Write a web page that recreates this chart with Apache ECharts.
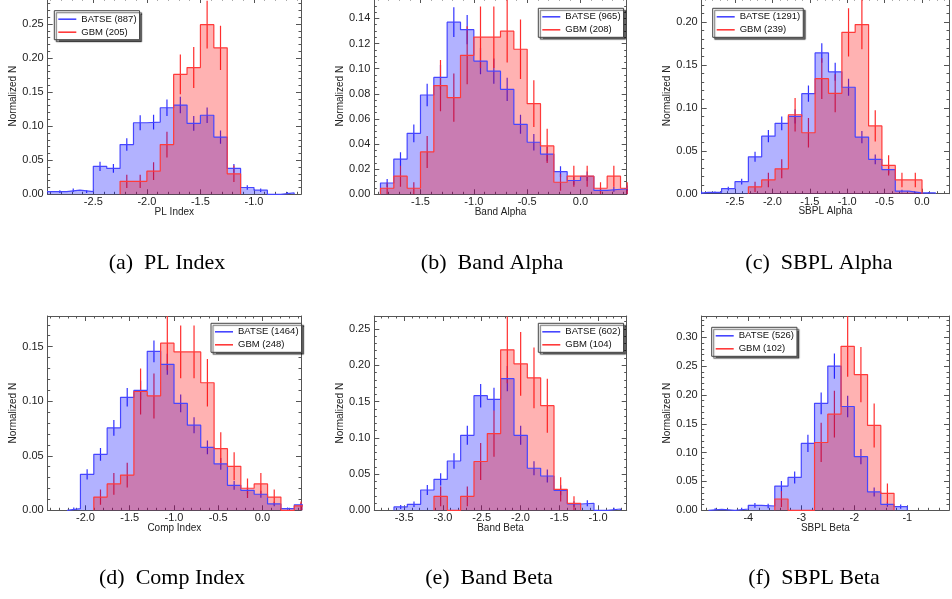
<!DOCTYPE html>
<html><head><meta charset="utf-8">
<script src="https://cdn.jsdelivr.net/npm/echarts@6/dist/echarts.min.js"></script>
<style>html,body{margin:0;padding:0;background:#fff}#c{width:952px;height:599px}</style>
</head><body><div id="c"></div>
<script>
// ---------- (a) PL Index ----------
const aEdges = [-3.0,-2.875,-2.75,-2.625,-2.5,-2.375,-2.25,-2.125,-2.0,-1.875,-1.75,-1.625,-1.5,-1.375,-1.25,-1.125,-1.0,-0.875,-0.75,-0.625];
const aBatse = [0.004,0.004,0.006,0.004,0.041,0.038,0.073,0.105,0.106,0.127,0.131,0.104,0.116,0.084,0.038,0.010,0.006,0,0.002];
const aBatseErr = [0.0021,0.0021,0.0026,0.0021,0.0068,0.0065,0.0091,0.0109,0.0109,0.012,0.0122,0.0108,0.0114,0.0097,0.0065,0.0034,0.0026,0,0.0015];
const aGbm = [null,null,null,null,null,null,0.019,0.019,0.034,0.073,0.176,0.186,0.249,0.215,0.030,null,null,null,null];
const aGbmErr = [null,null,null,null,null,null,0.0096,0.0096,0.0129,0.0189,0.0293,0.0301,0.0349,0.0324,0.0121,null,null,null,null];
const aXTicks = [-2.5,-2.0,-1.5,-1.0];
const aYTicks = [0,0.05,0.10,0.15,0.20,0.25];

// ---------- (b) Band Alpha ----------
const bEdges = [-1.875,-1.75,-1.625,-1.5,-1.375,-1.25,-1.125,-1.0,-0.875,-0.75,-0.625,-0.5,-0.375,-0.25,-0.125,0,0.125,0.25,0.375,0.5];
const bBatse = [0.009,0.028,0.0485,0.079,0.093,0.137,0.131,0.106,0.098,0.0835,0.0557,0.0414,0.032,0.018,0.011,0.0143,0.0032,0.004,0.0048];
const bBatseErr = [0.0031,0.0054,0.0071,0.009,0.0098,0.0119,0.0117,0.0105,0.0101,0.0093,0.0076,0.0066,0.0058,0.0043,0.0034,0.0038,0.0018,0.002,0.0022];
const bGbm = [0.0048,0.0144,0.0048,0.0337,0.0865,0.0769,0.1106,0.125,0.125,0.1298,0.1154,0.0721,0.0385,0.0096,0.0144,0.0144,0.0048,0.0144,0.0048];
const bGbmErr = [0.0048,0.0083,0.0048,0.0127,0.0204,0.0192,0.0231,0.0245,0.0245,0.025,0.0236,0.0186,0.0136,0.0068,0.0083,0.0083,0.0048,0.0083,0.0048];
const bXTicks = [-1.5,-1.0,-0.5,0.0];
const bYTicks = [0,0.02,0.04,0.06,0.08,0.10,0.12,0.14];

// ---------- (c) SBPL Alpha ----------
const cEdges = [-3.036,-2.857,-2.679,-2.5,-2.321,-2.143,-1.964,-1.786,-1.607,-1.429,-1.25,-1.071,-0.893,-0.714,-0.536,-0.357,-0.179,0,0.179];
const cBatse = [0.0016,0.0016,0.006,0.014,0.043,0.067,0.082,0.090,0.1165,0.164,0.142,0.124,0.066,0.040,0.028,0.003,0.001,0.001];
const cBatseErr = [0.0011,0.0011,0.0022,0.0033,0.0058,0.0072,0.008,0.0083,0.0095,0.0113,0.0105,0.0098,0.0071,0.0056,0.0047,0.0015,0.0009,0.0009];
const cGbm = [null,null,null,null,0.008,0.016,0.029,0.092,0.071,0.134,0.117,0.188,0.197,0.079,0.033,0.016,0.016,null];
const cGbmErr = [null,null,null,null,0.0059,0.0084,0.0111,0.0196,0.0173,0.0237,0.0221,0.0281,0.0287,0.0182,0.0118,0.0084,0.0084,null];
const cXTicks = [-2.5,-2.0,-1.5,-1.0,-0.5,0.0];
const cYTicks = [0,0.05,0.10,0.15,0.20];

// ---------- (d) Comp Index ----------
const dEdges = [-2.208,-2.057,-1.906,-1.755,-1.604,-1.453,-1.302,-1.151,-1.0,-0.849,-0.698,-0.547,-0.396,-0.245,-0.094,0.057,0.208,0.359,0.51];
const dBatse = [0.0015,0.033,0.0513,0.0755,0.1036,0.110,0.1457,0.1338,0.098,0.078,0.0577,0.0425,0.0229,0.0183,0.0147,0.0058,0.0015,0.005];
const dBatseErr = [0.001,0.0047,0.0059,0.0072,0.0084,0.0087,0.01,0.0096,0.0082,0.0073,0.0063,0.0054,0.004,0.0035,0.0032,0.002,0.001,0.0018];
const dGbm = [null,null,0.0121,0.0242,0.0323,0.1089,0.1048,0.1532,0.1452,0.1452,0.1169,0.0565,0.0403,0.0202,0.0242,0.0121,0,0.004];
const dGbmErr = [null,null,0.007,0.0099,0.0114,0.021,0.0206,0.0249,0.0242,0.0242,0.0217,0.0151,0.0128,0.009,0.0099,0.007,0,0.004];
const dXTicks = [-2.0,-1.5,-1.0,-0.5,0.0];
const dYTicks = [0,0.05,0.10,0.15];

// ---------- (e) Band Beta ----------
const eEdges = [-3.632,-3.46,-3.288,-3.116,-2.944,-2.772,-2.6,-2.428,-2.256,-2.084,-1.912,-1.74,-1.568,-1.396,-1.224,-1.052,-0.88,-0.708];
const eBatse = [0.0046,0.0083,0.028,0.0427,0.068,0.1034,0.158,0.153,0.1815,0.1034,0.058,0.0473,0.0276,0.0087,0.0097,0,0.0018];
const eBatseErr = [0.0028,0.0037,0.0068,0.0084,0.0106,0.0131,0.0162,0.0159,0.0174,0.0131,0.0098,0.0089,0.0068,0.0038,0.004,0,0.0017];
const eGbm = [null,null,null,0.0192,0,0.0192,0.0673,0.1058,0.2212,0.2019,0.1827,0.1442,0.0288,0.0096,null,null,null];
const eGbmErr = [null,null,null,0.0136,0,0.0136,0.0254,0.0319,0.0461,0.0441,0.0419,0.0372,0.0167,0.0096,null,null,null];
const eXTicks = [-3.5,-3.0,-2.5,-2.0,-1.5,-1.0];
const eYTicks = [0,0.05,0.10,0.15,0.20,0.25];

// ---------- (f) SBPL Beta ----------
const fEdges = [-4.75,-4.5,-4.25,-4.0,-3.75,-3.5,-3.25,-3.0,-2.75,-2.5,-2.25,-2.0,-1.75,-1.5,-1.25,-1.0];
const fBatse = [0.0017,0,0.0023,0.0087,0.0075,0.042,0.057,0.116,0.1855,0.25,0.18,0.093,0.0318,0.0104,0.0064];
const fBatseErr = [0.0018,0,0.0021,0.0041,0.0038,0.0089,0.0104,0.0149,0.0188,0.0218,0.0185,0.0133,0.0078,0.0044,0.0035];
const fGbm = [null,null,null,null,null,0.0196,0,0,0.1176,0.1667,0.2843,0.2353,0.1471,0.0294,null];
const fGbmErr = [null,null,null,null,null,0.0139,0,0,0.034,0.0404,0.0528,0.048,0.038,0.017,null];
const fXTicks = [-4,-3,-2,-1];
const fYTicks = [0,0.05,0.10,0.15,0.20,0.25,0.30];

const titles = ['PL Index','Band Alpha','SBPL Alpha','Comp Index','Band Beta','SBPL Beta'];
const captions = ['(a)  PL Index','(b)  Band Alpha','(c)  SBPL Alpha','(d)  Comp Index','(e)  Band Beta','(f)  SBPL Beta'];
const batseNames = ['BATSE (887)','BATSE (965)','BATSE (1291)','BATSE (1464)','BATSE (602)','BATSE (526)'];
const gbmNames = ['GBM (205)','GBM (208)','GBM (239)','GBM (248)','GBM (104)','GBM (102)'];

const panels = [
 {edges:aEdges,b:aBatse,bE:aBatseErr,g:aGbm,gE:aGbmErr,xT:aXTicks,yT:aYTicks,xMin:-2.926,xMax:-0.561,yMax:0.2881,xStep:0.1,yStep:0.01,xDec:1,
  grid:{left:47.7,top:-2,width:253.3,height:196.3},leg:{left:54.3,top:10.7},cap:[167,263]},
 {edges:bEdges,b:bBatse,bE:bBatseErr,g:bGbm,gE:bGbmErr,xT:bXTicks,yT:bYTicks,xMin:-1.933,xMax:0.433,yMax:0.1562,xStep:0.1,yStep:0.005,xDec:1,
  grid:{left:374.3,top:-2,width:252.4,height:196.3},leg:{left:538.3,top:8.3},cap:[492,263]},
 {edges:cEdges,b:cBatse,bE:cBatseErr,g:cGbm,gE:cGbmErr,xT:cXTicks,yT:cYTicks,xMin:-2.945,xMax:0.361,yMax:0.228,xStep:0.1,yStep:0.01,xDec:1,
  grid:{left:701.7,top:-2,width:247.3,height:195.7},leg:{left:712.7,top:8.3},cap:[819,263]},
 {edges:dEdges,b:dBatse,bE:dBatseErr,g:dGbm,gE:dGbmErr,xT:dXTicks,yT:dYTicks,xMin:-2.427,xMax:0.435,yMax:0.1781,xStep:0.1,yStep:0.01,xDec:1,
  grid:{left:47.7,top:316,width:253.3,height:194.3},leg:{left:211,top:323.3},cap:[172,578]},
 {edges:eEdges,b:eBatse,bE:eBatseErr,g:eGbm,gE:eGbmErr,xT:eXTicks,yT:eYTicks,xMin:-3.886,xMax:-0.630,yMax:0.2679,xStep:0.1,yStep:0.01,xDec:1,
  grid:{left:374.3,top:316,width:252.4,height:194.3},leg:{left:538.3,top:323.3},cap:[489,578]},
 {edges:fEdges,b:fBatse,bE:fBatseErr,g:fGbm,gE:fGbmErr,xT:fXTicks,yT:fYTicks,xMin:-4.879,xMax:-0.213,yMax:0.3369,xStep:0.2,yStep:0.01,xDec:0,
  grid:{left:701.7,top:316,width:247.3,height:194.3},leg:{left:711.7,top:327.3},cap:[814,578]}
];

const FRAME = '#555';
const LABEL = '#222';
const FONT = '"Liberation Sans", Arial, Helvetica, sans-serif';
const BLUE_LINE = '#4646ff', RED_LINE = '#ff3a3a';
const BLUE_ERR = '#3434ff', RED_ERR = '#ff2e2e';

function minorVals(min, max, step){
  const out = [];
  for (let k = Math.ceil(min/step - 1e-9); k*step <= max + 1e-9; k++) out.push(+(k*step).toFixed(6));
  return out;
}
function stepPoints(edges, vals){
  let i0 = -1, i1 = -1;
  vals.forEach((v,k)=>{ if (v !== null){ if (i0 < 0) i0 = k; i1 = k; } });
  const pts = [[edges[i0], 0]];
  for (let k = i0; k <= i1; k++){ pts.push([edges[k], vals[k]]); pts.push([edges[k+1], vals[k]]); }
  pts.push([edges[i1+1], 0]);
  return pts;
}
function errData(edges, vals, errs){
  const out = [];
  vals.forEach((v,k)=>{ if (v !== null && errs[k] > 0) out.push([(edges[k]+edges[k+1])/2, v-errs[k], v+errs[k]]); });
  return out;
}

const grids = [], xAxes = [], yAxes = [], series = [], legends = [], graphics = [];
panels.forEach((p, i) => {
  grids.push(Object.assign({containLabel:false, outerBoundsMode:'none'}, p.grid));
  const xb = {type:'value', gridIndex:i, min:p.xMin, max:p.xMax, splitLine:{show:false}, silent:true, nameMoveOverlap:false};
  const xMinor = minorVals(p.xMin, p.xMax, p.xStep);
  const yMinor = minorVals(0, p.yMax, p.yStep);
  xAxes.push(Object.assign({}, xb, {position:'bottom', name:titles[i], nameLocation:'middle', nameGap:12.5,
      nameTextStyle:{fontSize:10, color:LABEL, fontFamily:FONT},
      axisLine:{show:true, onZero:false, lineStyle:{color:FRAME, width:1}},
      axisTick:{show:true, inside:true, length:5, customValues:p.xT, lineStyle:{color:FRAME}},
      axisLabel:{show:true, customValues:p.xT, margin:2.5, fontSize:11, color:LABEL, fontFamily:FONT,
        formatter:(v)=>Number(v).toFixed(p.xDec)}}));
  xAxes.push(Object.assign({}, xb, {position:'bottom', axisLine:{show:false, onZero:false},
      axisTick:{show:true, inside:true, length:2.5, customValues:xMinor, lineStyle:{color:FRAME}}, axisLabel:{show:false}}));
  xAxes.push(Object.assign({}, xb, {position:'top', axisLine:{show:true, onZero:false, lineStyle:{color:FRAME, width:1}},
      axisTick:{show:true, inside:true, length:5, customValues:p.xT, lineStyle:{color:FRAME}}, axisLabel:{show:false}}));
  xAxes.push(Object.assign({}, xb, {position:'top', axisLine:{show:false, onZero:false},
      axisTick:{show:true, inside:true, length:2.5, customValues:xMinor, lineStyle:{color:FRAME}}, axisLabel:{show:false}}));

  const yb = {type:'value', gridIndex:i, min:0, max:p.yMax, splitLine:{show:false}, silent:true, nameMoveOverlap:false};
  yAxes.push(Object.assign({}, yb, {position:'left', name:'Normalized N', nameLocation:'middle', nameGap:29,
      nameTextStyle:{fontSize:10, color:LABEL, fontFamily:FONT},
      axisLine:{show:true, onZero:false, lineStyle:{color:FRAME, width:1}},
      axisTick:{show:true, inside:true, length:5, customValues:p.yT, lineStyle:{color:FRAME}},
      axisLabel:{show:true, customValues:p.yT, margin:4, fontSize:11, color:LABEL, fontFamily:FONT,
        formatter:(v)=>Number(v).toFixed(2)}}));
  yAxes.push(Object.assign({}, yb, {position:'left', axisLine:{show:false, onZero:false},
      axisTick:{show:true, inside:true, length:2.5, customValues:yMinor, lineStyle:{color:FRAME}}, axisLabel:{show:false}}));
  yAxes.push(Object.assign({}, yb, {position:'right', axisLine:{show:true, onZero:false, lineStyle:{color:FRAME, width:1}},
      axisTick:{show:true, inside:true, length:5, customValues:p.yT, lineStyle:{color:FRAME}}, axisLabel:{show:false}}));
  yAxes.push(Object.assign({}, yb, {position:'right', axisLine:{show:false, onZero:false},
      axisTick:{show:true, inside:true, length:2.5, customValues:yMinor, lineStyle:{color:FRAME}}, axisLabel:{show:false}}));

  const xi = 4*i, yi = 4*i;
  const mkHist = (name, pts, line, fill) => ({type:'line', name, xAxisIndex:xi, yAxisIndex:yi, data:pts,
      color:line, symbol:'none', showSymbol:false, silent:true, animation:false, clip:true,
      lineStyle:{color:line, width:1.2}, itemStyle:{color:line},
      areaStyle:{color:fill, opacity:0.3}, emphasis:{disabled:true}});
  const mkErr = (name, data, col) => ({type:'custom', name, xAxisIndex:xi, yAxisIndex:yi, data, clip:true,
      silent:true, animation:false, encode:{x:0, y:[1,2]},
      renderItem:(params, api) => {
        const a = api.coord([api.value(0), api.value(1)]);
        const b = api.coord([api.value(0), api.value(2)]);
        return {type:'line', shape:{x1:a[0], y1:a[1], x2:b[0], y2:b[1]}, style:{stroke:col, lineWidth:1.2}};
      }});
  series.push(mkHist(batseNames[i], stepPoints(p.edges, p.b), BLUE_LINE, 'rgb(0,0,255)'));
  series.push(mkErr(batseNames[i]+' err', errData(p.edges, p.b, p.bE), BLUE_ERR));
  series.push(mkHist(gbmNames[i], stepPoints(p.edges, p.g), RED_LINE, 'rgb(255,0,0)'));
  series.push(mkErr(gbmNames[i]+' err', errData(p.edges, p.g, p.gE), RED_ERR));

  legends.push({show:true, data:[batseNames[i], gbmNames[i]], orient:'vertical', left:p.leg.left, top:p.leg.top,
      padding:[3,3,2,4], itemGap:2, itemWidth:18, itemHeight:1.6, icon:'rect', selectedMode:false,
      backgroundColor:'#fff', borderColor:'#444', borderWidth:1,
      shadowColor:'rgba(0,0,0,0.6)', shadowOffsetX:2, shadowOffsetY:2, shadowBlur:1,
      textStyle:{fontSize:9.5, color:'#111', fontFamily:FONT, lineHeight:11}});

  graphics.push({type:'text', x:p.cap[0], y:p.cap[1], silent:true,
      style:{text:captions[i], font:'22px "Liberation Serif", "Times New Roman", serif', fill:'#000',
        align:'center', verticalAlign:'middle', textAlign:'center', textVerticalAlign:'middle'}});
});

const chart = echarts.init(document.getElementById('c'), null, {renderer:'canvas'});
chart.setOption({
  animation:false,
  backgroundColor:'#fff',
  grid:grids, xAxis:xAxes, yAxis:yAxes, series, legend:legends, graphic:graphics,
  tooltip:{show:false}
});
</script>
</body></html>
